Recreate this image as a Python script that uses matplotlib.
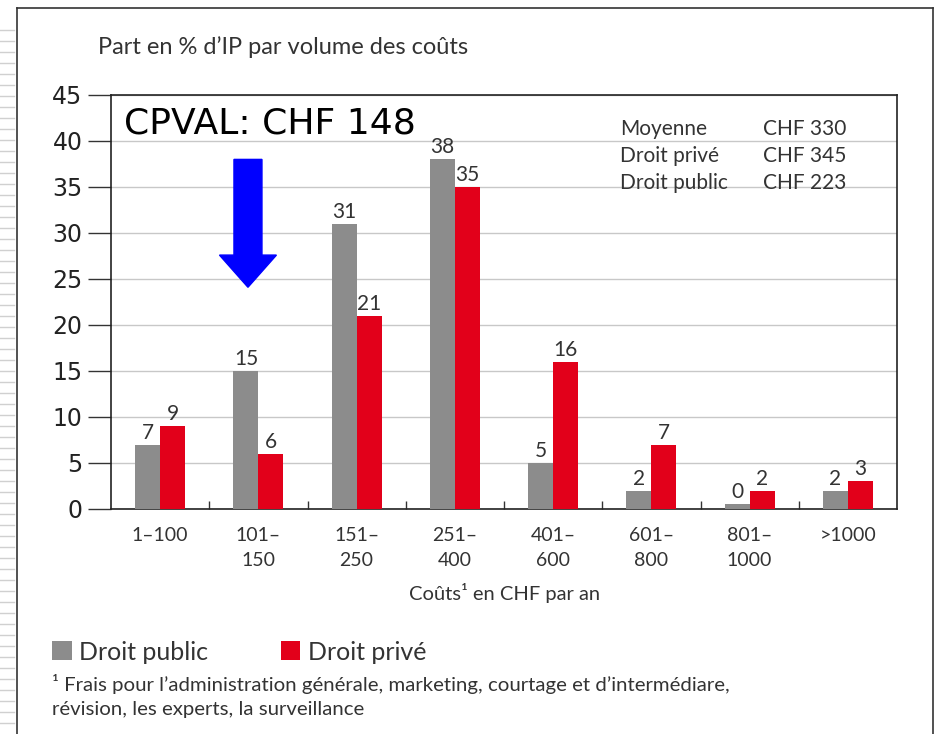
import numpy as np
import matplotlib
matplotlib.use("Agg")
import matplotlib.pyplot as plt
from matplotlib.lines import Line2D

# données
categories = ["1–100", "101–\n150", "151–\n250", "251–\n400",
              "401–\n600", "601–\n800", "801–\n1000", ">1000"]
droit_public = [7, 15, 31, 38, 5, 2, 0.5, 2]
droit_prive = [9, 6, 21, 35, 16, 7, 2, 3]
public_labels = ["7", "15", "31", "38", "5", "2", "0", "2"]
prive_labels = ["9", "6", "21", "35", "16", "7", "2", "3"]
stat_names = ["Moyenne", "Droit privé", "Droit public"]
stat_values = ["CHF 330", "CHF 345", "CHF 223"]
yticks = [0, 5, 10, 15, 20, 25, 30, 35, 40, 45]

gris = "#8c8c8c"
rouge = "#e2001a"
texte = "#333333"
police = ["Lato", "DejaVu Sans"]

W, H = 935, 734
fig = plt.figure(figsize=(W / 100, H / 100), dpi=100)
ax = fig.add_axes([111 / W, 1 - 509 / H, (897 - 111) / W, (509 - 95) / H])

x = np.arange(len(categories))
w = 0.254
b1 = ax.bar(x - w / 2, droit_public, w, color=gris, label="Droit public", zorder=3)
b2 = ax.bar(x + w / 2, droit_prive, w, color=rouge, label="Droit privé", zorder=3)

for rect, lab in zip(b1, public_labels):
    ax.annotate(lab, (rect.get_x() + rect.get_width() / 2, rect.get_height()),
                xytext=(0, 1.5), textcoords="offset points", ha="center", va="bottom",
                fontsize=15, color=texte, family=police)
for rect, lab in zip(b2, prive_labels):
    ax.annotate(lab, (rect.get_x() + rect.get_width() / 2, rect.get_height()),
                xytext=(0, 1.5), textcoords="offset points", ha="center", va="bottom",
                fontsize=15, color=texte, family=police)

ax.set_xlim(-0.5, len(categories) - 0.5)
ax.set_ylim(0, 45)
ax.set_yticks(yticks)
ax.set_yticklabels([str(t) for t in yticks], fontsize=17, color="#222222",
                   family="DejaVu Sans")
ax.tick_params(axis="y", length=16.5, width=1, color="#333333", pad=4, direction="out")
ax.set_xticks(x)
ax.set_xticklabels(categories, fontsize=14, color=texte, family=police,
                   linespacing=1.6)
ax.tick_params(axis="x", length=0, pad=13)
ax.set_xticks(np.arange(0.5, len(categories) - 1, 1), minor=True)
ax.tick_params(axis="x", which="minor", direction="in", length=6, width=1, color="#333333")
ax.grid(axis="y", color="#c8c8c8", linewidth=1, zorder=0)
for s in ax.spines.values():
    s.set_color("#222222")
    s.set_linewidth(1.2)

# flèche bleue
ax.arrow(0.894, 38.0, 0, -10.4, width=0.285, head_width=0.58, head_length=3.5,
         length_includes_head=False, color="#0000ff", zorder=4)
ax.text((124 - 111) / 98.3 - 0.5, 41.9, "CPVAL: CHF 148",
        fontsize=26, color="black", family="DejaVu Sans", va="center", ha="left")

# encadré des moyennes
for i, (n, v) in enumerate(zip(stat_names, stat_values)):
    fig.text(620 / W, 1 - (129 + i * 27) / H, n, fontsize=15, color=texte,
             family=police, va="center")
    fig.text(763 / W, 1 - (129 + i * 27) / H, v, fontsize=15, color=texte,
             family=police, va="center")

fig.text(98 / W, 1 - 47 / H, "Part en % d’IP par volume des coûts", fontsize=17,
         color=texte, family=police, va="center")
fig.text(505 / W, 1 - 593 / H, "Coûts¹ en CHF par an", fontsize=14.5, color=texte,
         family=police, va="center", ha="center")

fig.legend(handles=[b1, b2], loc="center left", bbox_to_anchor=(52 / W, 1 - 652 / H),
           ncol=2, frameon=False, handlelength=0.78, handleheight=0.78,
           handletextpad=0.3, columnspacing=2.9, borderpad=0, borderaxespad=0,
           prop={"family": police, "size": 18})
for t in fig.legends[0].get_texts():
    t.set_color(texte)

fig.text(52 / W, 1 - 684 / H,
         "¹ Frais pour l’administration générale, marketing, courtage et d’intermédiare,",
         fontsize=14.7, color=texte, family=police, va="center")
fig.text(52 / W, 1 - 710 / H, "révision, les experts, la surveillance",
         fontsize=14.7, color=texte, family=police, va="center")

# cadre de la diapositive
cadre = "#333333"
fig.add_artist(Line2D([17 / W, 17 / W], [0, 1 - 8 / H], color=cadre, lw=1.2))
fig.add_artist(Line2D([17 / W, 933 / W], [1 - 8 / H, 1 - 8 / H], color=cadre, lw=1.2))
fig.add_artist(Line2D([933 / W, 933 / W], [0, 1 - 8 / H], color=cadre, lw=1.2))
for yy in np.arange(30, H, 11):
    fig.add_artist(Line2D([0, 14 / W], [1 - yy / H, 1 - yy / H], color="#d0d0d0", lw=1))

fig.savefig("out.png", dpi=100)
